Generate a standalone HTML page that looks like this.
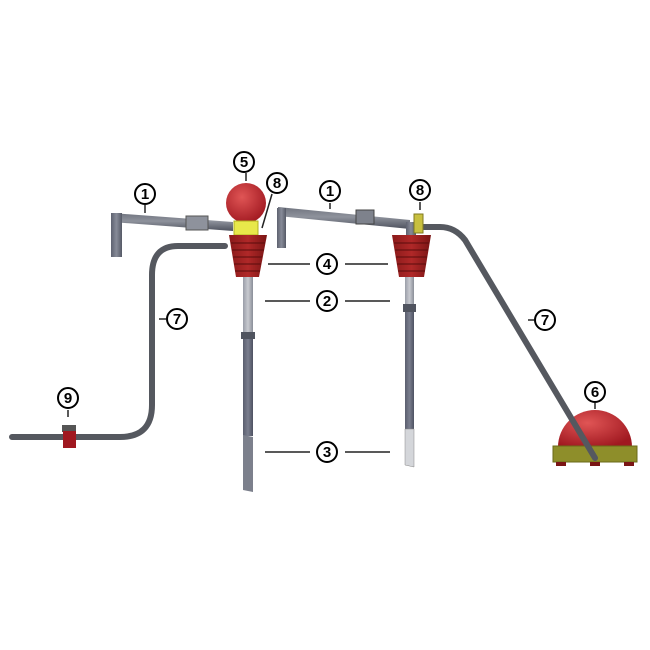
<!DOCTYPE html>
<html><head><style>body{margin:0;background:#fff}svg{display:block}</style></head><body>
<svg width="650" height="650" viewBox="0 0 650 650" xmlns="http://www.w3.org/2000/svg">
<defs>
<radialGradient id="ball" cx="0.4" cy="0.35" r="0.7"><stop offset="0" stop-color="#e05555"/><stop offset="1" stop-color="#a01820"/></radialGradient>
<linearGradient id="cup" x1="0" x2="1"><stop offset="0" stop-color="#8a1a1a"/><stop offset="0.5" stop-color="#b02828"/><stop offset="1" stop-color="#7a1515"/></linearGradient>
<linearGradient id="tube" x1="0" x2="1"><stop offset="0" stop-color="#5a5e6e"/><stop offset="0.5" stop-color="#7a7e8e"/><stop offset="1" stop-color="#4e5262"/></linearGradient>
<linearGradient id="ltube" x1="0" x2="1"><stop offset="0" stop-color="#9a9ea8"/><stop offset="0.5" stop-color="#c8cad0"/><stop offset="1" stop-color="#8a8e98"/></linearGradient>
<linearGradient id="gpipe" x1="0" x2="1"><stop offset="0" stop-color="#5e6270"/><stop offset="0.5" stop-color="#878b98"/><stop offset="1" stop-color="#555966"/></linearGradient>
<linearGradient id="pipe" x1="0" y1="0" x2="0" y2="1"><stop offset="0" stop-color="#70747f"/><stop offset="0.45" stop-color="#8e929c"/><stop offset="1" stop-color="#4e525e"/></linearGradient>
</defs>
<g fill="none" stroke-linecap="round">
<path d="M225,246 L178,246 Q152,246 152,275 L152,405 Q152,437 120,437 L12,437" stroke="#55585f" stroke-width="6"/>
</g>
<!-- leader lines -->
<g stroke="#222" stroke-width="1.5">
<line x1="268" y1="264" x2="310" y2="264"/><line x1="345" y1="264" x2="388" y2="264"/>
<line x1="265" y1="301" x2="310" y2="301"/><line x1="345" y1="301" x2="390" y2="301"/>
<line x1="265" y1="452" x2="310" y2="452"/><line x1="345" y1="452" x2="390" y2="452"/>
<line x1="145" y1="205" x2="145" y2="213"/><line x1="330" y1="203" x2="330" y2="209"/>
<line x1="246" y1="173" x2="246" y2="181"/><line x1="272" y1="194" x2="262" y2="228"/>
<line x1="420" y1="202" x2="420" y2="210"/><line x1="595" y1="403" x2="595" y2="409"/>
<line x1="68" y1="410" x2="68" y2="417"/><line x1="159" y1="319" x2="166" y2="319"/>
<line x1="528" y1="320" x2="534" y2="320"/>
</g>
<!-- left pump tubes -->
<rect x="243" y="276" width="10" height="56" fill="url(#ltube)"/>
<rect x="241" y="332" width="14" height="7" fill="#50545f"/>
<rect x="243" y="339" width="10" height="97" fill="url(#tube)"/>
<polygon points="243,435 253,437 253,492 243,490" fill="#7c808c"/>
<!-- left pipe 1 -->
<polygon points="112,213 233,222 233,231 112,222" fill="url(#pipe)"/>
<rect x="111" y="213" width="11" height="44" fill="url(#gpipe)"/>
<rect x="186" y="216" width="22" height="14" fill="#8e929c" stroke="#555" stroke-width="1"/>
<!-- ball, collar, cup -->
<circle cx="246" cy="203" r="20" fill="url(#ball)"/>
<rect x="234" y="221" width="24" height="14" fill="#e8e84a" stroke="#b0b020" stroke-width="1"/>
<polygon points="229,235 267,235 259,277 236,277" fill="url(#cup)"/>
<g stroke="#5a0c0c" stroke-width="1"><line x1="231" y1="243" x2="265" y2="243"/><line x1="232" y1="250" x2="264" y2="250"/><line x1="233" y1="257" x2="262" y2="257"/><line x1="234" y1="264" x2="261" y2="264"/><line x1="235" y1="271" x2="260" y2="271"/></g>
<!-- right pump tubes -->
<rect x="405" y="276" width="9" height="28" fill="url(#ltube)"/>
<rect x="403" y="304" width="13" height="8" fill="#50545f"/>
<rect x="405" y="312" width="9" height="117" fill="url(#tube)"/>
<polygon points="405,429 414,429 414,467 405,465" fill="#d4d6da" stroke="#888" stroke-width="0.5"/>
<!-- right pipe 1 -->
<polygon points="278,207 410,220 410,229 278,216" fill="url(#pipe)"/>
<rect x="277" y="208" width="9" height="40" fill="url(#gpipe)"/>
<rect x="406" y="222" width="10" height="15" fill="url(#gpipe)"/>
<rect x="356" y="210" width="18" height="14" fill="#7e828c" stroke="#444" stroke-width="1"/>
<polygon points="392,235 431,235 424,277 399,277" fill="url(#cup)"/>
<g stroke="#5a0c0c" stroke-width="1"><line x1="394" y1="243" x2="429" y2="243"/><line x1="395" y1="250" x2="428" y2="250"/><line x1="396" y1="257" x2="427" y2="257"/><line x1="397" y1="264" x2="426" y2="264"/><line x1="398" y1="271" x2="425" y2="271"/></g>
<!-- dome 6 -->
<path d="M558,447 A37,37 0 0 1 632,447 Z" fill="url(#ball)"/>
<rect x="553" y="446" width="84" height="16" fill="#8e8e2a" stroke="#6a6a18" stroke-width="1"/>
<rect x="556" y="462" width="10" height="4" fill="#7a1515"/><rect x="590" y="462" width="10" height="4" fill="#7a1515"/><rect x="624" y="462" width="10" height="4" fill="#7a1515"/>
<!-- right hose -->
<path d="M424,227 L440,227 Q455,227 465,240 L595,458" fill="none" stroke="#55585f" stroke-width="6" stroke-linecap="round"/>
<rect x="414" y="214" width="9" height="19" fill="#c8c040" stroke="#807a20" stroke-width="1"/>
<!-- valve 9 -->
<rect x="62" y="425" width="14" height="7" fill="#555"/>
<rect x="63" y="431" width="13" height="17" fill="#a01820"/>
<!-- labels -->
<g font-family="Liberation Sans, sans-serif" font-weight="bold" font-size="15" text-anchor="middle" fill="#000">
<g fill="#fff" stroke="#000" stroke-width="2">
<circle cx="145" cy="194" r="10"/><circle cx="330" cy="191" r="10"/><circle cx="244" cy="162" r="10"/><circle cx="277" cy="183" r="10"/><circle cx="420" cy="190" r="10"/><circle cx="327" cy="264" r="10"/><circle cx="327" cy="301" r="10"/><circle cx="327" cy="452" r="10"/><circle cx="177" cy="319" r="10"/><circle cx="545" cy="320" r="10"/><circle cx="595" cy="392" r="10"/><circle cx="68" cy="398" r="10"/>
</g>
<text x="145" y="199">1</text><text x="330" y="196">1</text><text x="244" y="167">5</text><text x="277" y="188">8</text><text x="420" y="195">8</text><text x="327" y="269">4</text><text x="327" y="306">2</text><text x="327" y="457">3</text><text x="177" y="324">7</text><text x="545" y="325">7</text><text x="595" y="397">6</text><text x="68" y="403">9</text>
</g>
</svg>
</body></html>
